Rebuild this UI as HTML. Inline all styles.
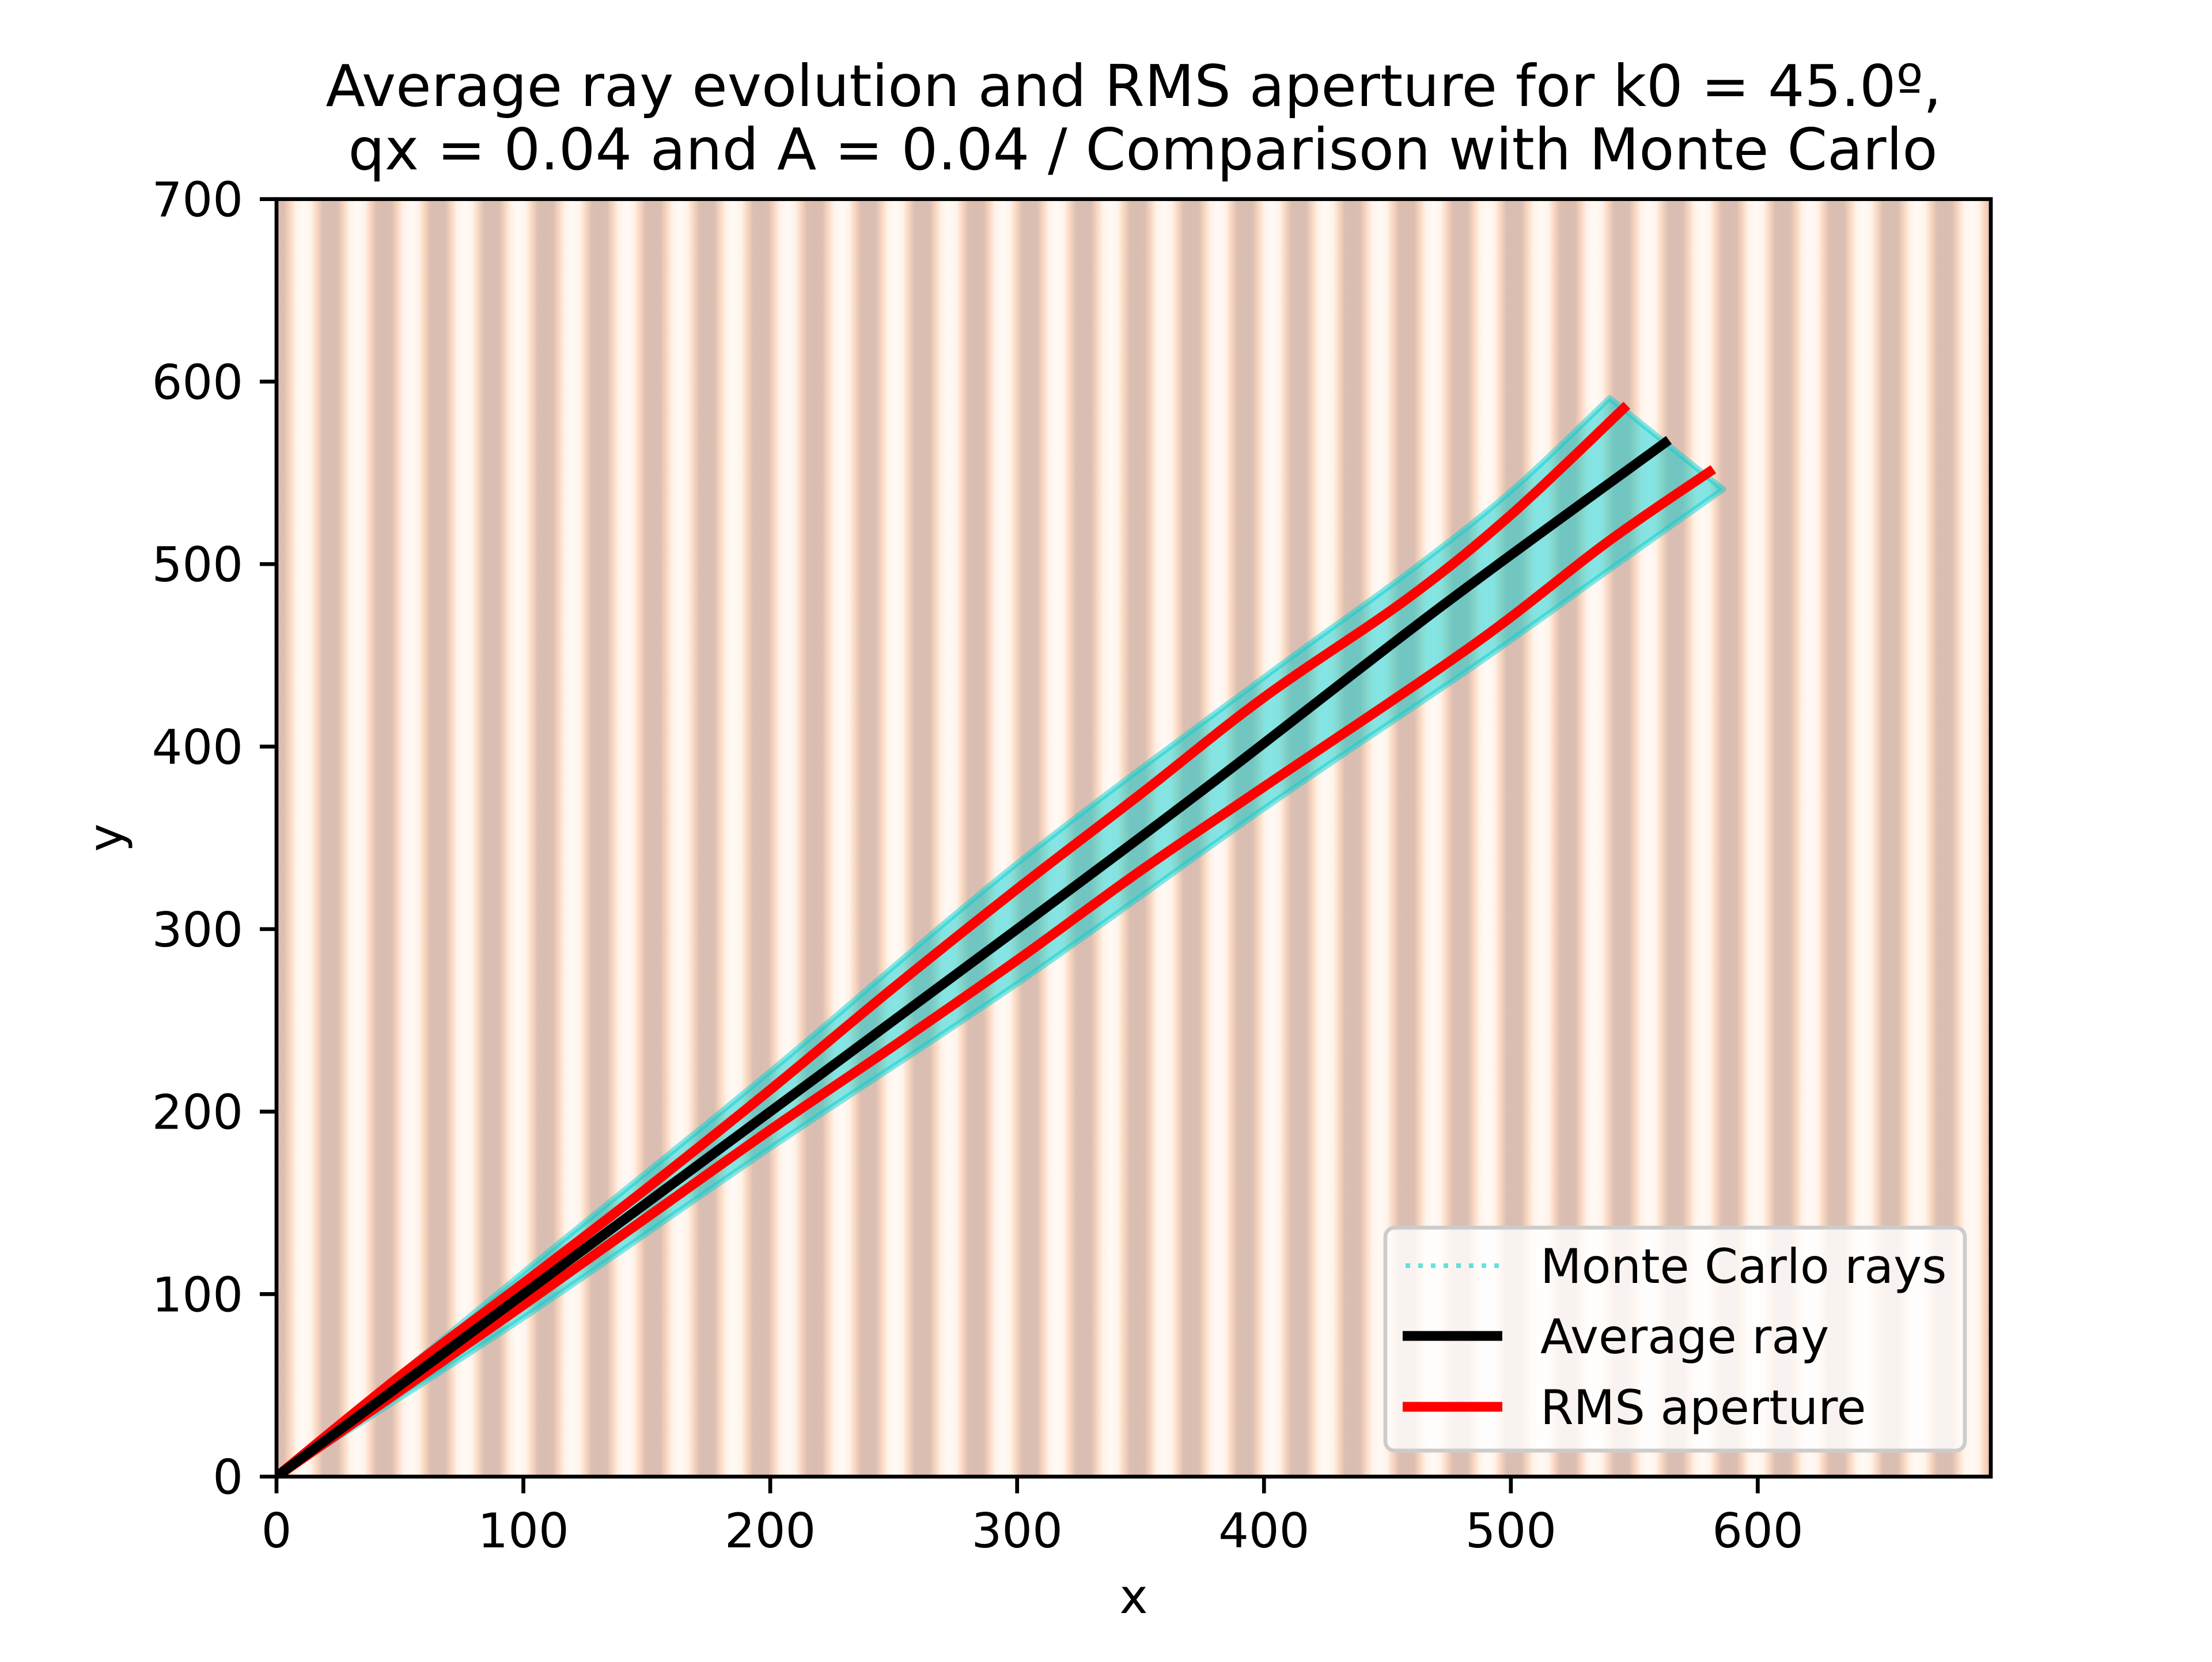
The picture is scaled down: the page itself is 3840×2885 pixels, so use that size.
<!DOCTYPE html>
<html><head><meta charset="utf-8"><style>
html,body{margin:0;padding:0;background:#fff;}
svg text{font-family:"DejaVu Sans","Liberation Sans",sans-serif;fill:#000;}
</style></head><body>
<svg id="chart" xmlns="http://www.w3.org/2000/svg" width="3840" height="2880" viewBox="0 0 3840 2880">
<defs>
<pattern id="stripes" patternUnits="userSpaceOnUse" x="480" y="0" width="93.4" height="10">
<rect width="93.4" height="10" fill="url(#sg)"/>
</pattern>
<linearGradient id="sg" x1="0" x2="1" y1="0" y2="0">
<stop offset="0" stop-color="#d9bdb2"/>
<stop offset="0.14" stop-color="#dcbfb2"/>
<stop offset="0.26" stop-color="#fbd9c2"/>
<stop offset="0.36" stop-color="#fff3ea"/>
<stop offset="0.5" stop-color="#fffaf6"/>
<stop offset="0.64" stop-color="#fff3ea"/>
<stop offset="0.74" stop-color="#fbd9c2"/>
<stop offset="0.86" stop-color="#dcbfb2"/>
<stop offset="1" stop-color="#d9bdb2"/>
</linearGradient>
<clipPath id="plotclip"><rect x="480" y="345.6" width="2976" height="2217.6"/></clipPath>
</defs>
<rect x="480" y="345.6" width="2976" height="2217.6" fill="url(#stripes)"/>
<g id="marks" clip-path="url(#plotclip)"></g>
<g id="axes"></g>
<text x="1968" y="184" font-size="100" text-anchor="middle">Average ray evolution and RMS aperture for k0 = 45.0º,</text>
<text x="1984" y="294" font-size="100" text-anchor="middle">qx = 0.04 and A = 0.04 / Comparison with Monte Carlo</text>
<text x="1968" y="2800" font-size="83" text-anchor="middle">x</text>
<text x="0" y="0" font-size="83" text-anchor="middle" transform="translate(212,1454) rotate(-90)">y</text>
<g>
<rect x="2405" y="2131" width="1006" height="387" rx="16" fill="#fff" fill-opacity="0.8" stroke="#cccccc" stroke-width="6.7"/>
<line x1="2440" y1="2197" x2="2608" y2="2197" stroke="#00ced1" stroke-opacity="0.6" stroke-width="8" stroke-dasharray="8 14"/>
<text x="2674" y="2227" font-size="83">Monte Carlo rays</text>
<line x1="2435" y1="2319" x2="2608" y2="2319" stroke="#000" stroke-width="17"/>
<text x="2674" y="2349" font-size="83">Average ray</text>
<line x1="2435" y1="2442" x2="2608" y2="2442" stroke="#ff0000" stroke-width="17"/>
<text x="2674" y="2472" font-size="83">RMS aperture</text>
</g>
</svg>
<script>
const xTicks = [0,100,200,300,400,500,600];
const yTicks = [0,100,200,300,400,500,600,700];
const avgX = [0,100,200,300,378,472,564];
const avgY = [0,100,200,300,379,477,568];
const upperX = [0,50,100,150,200,250,300,350,400,458,500,547];
const upperY = [0,55,106,158,212,268,322,374,427,481,527,587];
const lowerX = [0,50,100,150,200,250,300,350,400,485,539,582];
const lowerY = [0,47,94,142,190,236,283,332,378,456,512,552];
const bandUpX = [0,100,200,300,400,458,500,540];
const bandUpY = [0,112,222,336,438,495,540,591];
const bandLoX = [0,100,200,300,400,485,540,586];
const bandLoY = [0,87,180,270,366,444,497,541];

const X0=480, X1=3456, Y0=2563.2, Y1=345.6, XMAX=694.4, YMAX=700;
const sx = v => X0 + v/XMAX*(X1-X0);
const sy = v => Y0 - v/YMAX*(Y0-Y1);
const NS='http://www.w3.org/2000/svg';
const marks=document.getElementById('marks');
const axes=document.getElementById('axes');
function mk(tag, attrs, parent){const e=document.createElementNS(NS,tag);for(const k in attrs)e.setAttribute(k,attrs[k]);parent.appendChild(e);return e;}
function pts(xs,ys){return xs.map((x,i)=>[sx(x),sy(ys[i])]);}
function smooth(p){
  let d='M'+p[0][0].toFixed(1)+','+p[0][1].toFixed(1);
  for(let i=0;i<p.length-1;i++){
    const p0=p[Math.max(i-1,0)],p1=p[i],p2=p[i+1],p3=p[Math.min(i+2,p.length-1)];
    const c1=[p1[0]+(p2[0]-p0[0])/6,p1[1]+(p2[1]-p0[1])/6];
    const c2=[p2[0]-(p3[0]-p1[0])/6,p2[1]-(p3[1]-p1[1])/6];
    d+=' C'+c1.map(v=>v.toFixed(1)).join(',')+' '+c2.map(v=>v.toFixed(1)).join(',')+' '+p2.map(v=>v.toFixed(1)).join(',');
  }
  return d;
}

const up1=smooth(pts(bandUpX,bandUpY));
const lo1=pts(bandLoX,bandLoY).reverse();
const bandD = up1+' L'+smooth(lo1).slice(1)+' Z';
const band = mk('path',{d:bandD,fill:'#00ced1','fill-opacity':'0.48','stroke':'#00ced1','stroke-opacity':'0.48','stroke-width':'10','stroke-linejoin':'round'},marks);



const up = mk('path',{d:smooth(pts(upperX,upperY)),fill:'none',stroke:'#ff0000','stroke-width':'17','stroke-linejoin':'round'},marks);


const lo = mk('path',{d:smooth(pts(lowerX,lowerY)),fill:'none',stroke:'#ff0000','stroke-width':'17','stroke-linejoin':'round'},marks);


const avg = mk('path',{d:smooth(pts(avgX,avgY)),fill:'none',stroke:'#000','stroke-width':'17','stroke-linejoin':'round'},marks);



const frame = mk('rect',{x:X0,y:Y1,width:X1-X0,height:Y0-Y1,fill:'none',stroke:'#000','stroke-width':'6.7'},axes);



xTicks.forEach(v=>{
  const t = mk('line',{x1:sx(v),x2:sx(v),y1:Y0,y2:Y0+29,stroke:'#000','stroke-width':'6.7'},axes);
  
  
  const l = mk('text',{x:sx(v),y:2686,'font-size':'83','text-anchor':'middle'},axes);
  l.textContent=String(v);
  
  
});
yTicks.forEach(v=>{
  const t = mk('line',{x1:X0-29,x2:X0,y1:sy(v),y2:sy(v),stroke:'#000','stroke-width':'6.7'},axes);
  
  
  const l = mk('text',{x:422,y:sy(v)+30,'font-size':'83','text-anchor':'end'},axes);
  l.textContent=String(v);
  
  
});
</script>
</body></html>
